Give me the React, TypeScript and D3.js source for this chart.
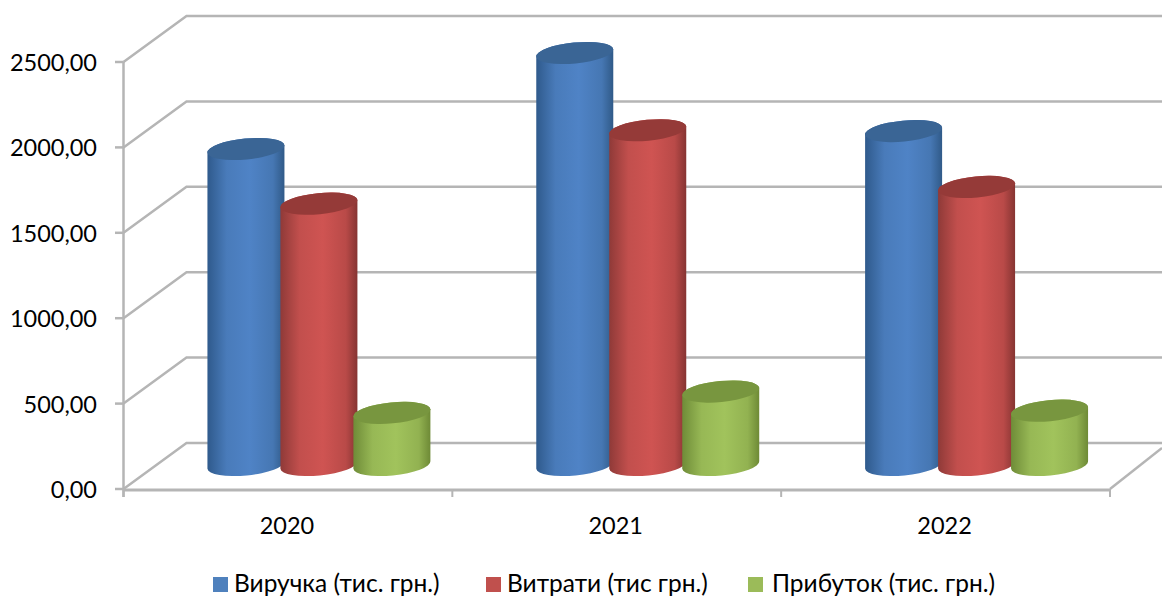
import React from "react";
import * as d3 from "d3";

const years = ["2020", "2021", "2022"];
const seriesNames = ["Виручка (тис. грн.)", "Витрати (тис грн.)", "Прибуток (тис. грн.)"];
const revenue = [1850, 2412, 1955];
const costs = [1530, 1960, 1628];
const profit = [305, 430, 318];
const valueTicks = [0, 500, 1000, 1500, 2000, 2500];

const seriesValues = [revenue, costs, profit];
const bodyEdgeLeft = ["#2f5a8c", "#8f3a38", "#6f8c38"];
const bodyMid = ["#4f83c6", "#cf5452", "#a1c35c"];
const bodyEdgeRight = ["#305a88", "#863432", "#6e8a36"];
const capFill = ["#3a6595", "#953a38", "#78963f"];
const legendFill = ["#4f81bd", "#c0504d", "#9bbb59"];
const legendSwatchX = [213, 486, 748];
const legendTextX = [234, 507, 772];

const W = 1162;
const H = 597;
const FONT = "Lato, 'Open Sans', sans-serif";
const GRID = "#b5b5b5";

// Oblique projection of the chart box: front plane to back wall.
const depthX = 63;
const depthY = -46;
// Cylinders stand in the middle of the floor.
const barDepthX = 31;
const barDepthY = -24;
const tiltDeg = 5.5;
const ry = 10.5;

const y = d3.scaleLinear().domain([0, 2500]).range([489, 62]);
const x0 = d3.scaleBand<string>().domain(years).range([123.5, 1110]);
const x1 = d3
  .scaleBand<string>()
  .domain(seriesNames)
  .range([0, x0.bandwidth()])
  .paddingInner(0)
  .paddingOuter(0.753);

const fmt = (v: number) => v.toFixed(2).replace(".", ",");

function cylinder(cx: number, top: number, base: number, halfW: number) {
  const t = (tiltDeg * Math.PI) / 180;
  const rx = halfW / Math.cos(t);
  const dy = rx * Math.sin(t);
  const lx = cx - halfW;
  const rxp = cx + halfW;
  const body = [
    `M${lx},${top + dy}`,
    `A${rx},${ry} ${-tiltDeg} 0 1 ${rxp},${top - dy}`,
    `L${rxp},${base - dy}`,
    `A${rx},${ry} ${-tiltDeg} 0 1 ${lx},${base + dy}`,
    "Z",
  ].join(" ");
  return { body, rx };
}

export default function App() {
  const halfW = 38.5;
  const backX = 123.5 + depthX;

  return (
    <svg
      width={W}
      height={H}
      viewBox={`0 0 ${W} ${H}`}
      style={{ position: "absolute", left: 0, top: 0, background: "#fff" }}
    >
      <defs>
        {seriesNames.map((_, i) => (
          <linearGradient key={i} id={`body-${i}`} x1="0" x2="1" y1="0" y2="0">
            <stop offset="0" stopColor={bodyEdgeLeft[i]} />
            <stop offset="0.25" stopColor={d3.interpolateRgb(bodyEdgeLeft[i], bodyMid[i])(0.8)} />
            <stop offset="0.55" stopColor={bodyMid[i]} />
            <stop offset="0.85" stopColor={d3.interpolateRgb(bodyEdgeRight[i], bodyMid[i])(0.7)} />
            <stop offset="1" stopColor={bodyEdgeRight[i]} />
          </linearGradient>
        ))}
      </defs>

      {/* back wall gridlines with their side-wall diagonals */}
      <g fill="none" stroke={GRID} strokeWidth={2.5}>
        {valueTicks.map((v) => (
          <path
            key={v}
            d={`M123.5,${y(v)} L${backX},${y(v) + depthY} L${W},${y(v) + depthY}`}
          />
        ))}
        <path d={`M1110,${y(0)} L${W},${y(0) - 41}`} />
      </g>

      {/* value axis */}
      <g stroke={GRID} strokeWidth={2.5} fill="none">
        <line x1={123.5} x2={123.5} y1={y(2500)} y2={y(0) + 8} />
        {valueTicks.map((v) => (
          <line key={v} x1={115} x2={123.5} y1={y(v)} y2={y(v)} />
        ))}
      </g>
      <g fontFamily={FONT} fontSize={23.5} fill="#000" textAnchor="end">
        {valueTicks.map((v) => (
          <text key={v} x={97} y={y(v)} dominantBaseline="central">
            {fmt(v)}
          </text>
        ))}
      </g>

      {/* category axis */}
      <g stroke={GRID} fill="none">
        <line x1={123.5} x2={1110} y1={y(0) + 1} y2={y(0) + 1} strokeWidth={3} />
        {[...years.map((c) => x0(c) as number), 1110].map((px) => (
          <line key={px} x1={px} x2={px} y1={y(0)} y2={y(0) + 8} strokeWidth={2} />
        ))}
      </g>
      <g fontFamily={FONT} fontSize={23.5} fill="#000" textAnchor="middle">
        {years.map((c) => (
          <text key={c} x={(x0(c) as number) + x0.bandwidth() / 2 - 1} y={525} dominantBaseline="central">
            {c}
          </text>
        ))}
      </g>

      {/* cylinders, left to right so each overlaps the one before */}
      {years.map((yr, yi) =>
        seriesNames.map((name, si) => {
          const cx = (x0(yr) as number) + (x1(name) as number) + x1.bandwidth() / 2 + barDepthX;
          const base = y(0) + barDepthY;
          const top = y(seriesValues[si][yi]) + barDepthY;
          const { body, rx } = cylinder(cx, top, base, halfW);
          return (
            <g key={`${yr}-${si}`}>
              <path d={body} fill={`url(#body-${si})`} />
              <ellipse
                cx={cx}
                cy={top}
                rx={rx}
                ry={ry}
                fill={capFill[si]}
                transform={`rotate(${-tiltDeg} ${cx} ${top})`}
              />
            </g>
          );
        })
      )}

      {/* legend */}
      {seriesNames.map((name, i) => (
        <g key={name}>
          <rect x={legendSwatchX[i]} y={577} width={15} height={15} fill={legendFill[i]} />
          <text x={legendTextX[i]} y={592} fontFamily={FONT} fontSize={24.5} fill="#000">
            {name}
          </text>
        </g>
      ))}
    </svg>
  );
}
